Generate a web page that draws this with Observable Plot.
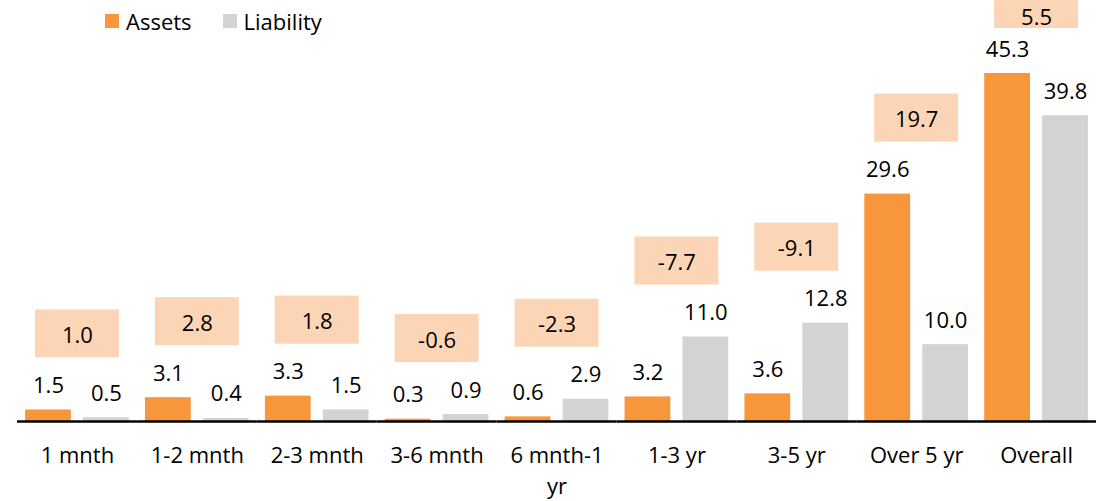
<!DOCTYPE html>
<html><head><meta charset="utf-8">
<script src="https://cdn.jsdelivr.net/npm/d3@7"></script>
<script src="https://cdn.jsdelivr.net/npm/@observablehq/plot@0.6"></script>
<style>
body{margin:0;background:#fff;font-family:"Open Sans",sans-serif;}
#wrap{position:relative;width:1096px;height:501px;overflow:hidden;}
#legend{position:absolute;left:105px;top:10px;display:flex;align-items:center;font-size:22px;line-height:1;color:#000;z-index:2;}
#legend .item{display:flex;align-items:center;margin-right:31px;}
#legend .sw{width:14px;height:14px;margin-right:7px;}
#chart{position:absolute;left:0;top:0;}
</style></head><body>
<div id="wrap"><div id="legend"></div><div id="chart"></div></div>
<script>
const categories = ["1 mnth","1-2 mnth","2-3 mnth","3-6 mnth","6 mnth-1 yr","1-3 yr","3-5 yr","Over 5 yr","Overall"];
const assets = [1.5,3.1,3.3,0.3,0.6,3.2,3.6,29.6,45.3];
const liability = [0.5,0.4,1.5,0.9,2.9,11.0,12.8,10.0,39.8];
const gap = [1.0,2.8,1.8,-0.6,-2.3,-7.7,-9.1,19.7,5.5];
const seriesNames = ["Assets","Liability"];
const colors = ["#F7963A","#D1D3D4"];
const boxColor = "#FBD5B5";

const H = 501, MB = 80, MT = 0;
const yMax = 54.8;
const k = (H - MB - MT) / yMax; // pixels per unit

const bars = categories.flatMap((c,i)=>[
  {category:c, series:seriesNames[0], value:assets[i]},
  {category:c, series:seriesNames[1], value:liability[i]}
]);
const gaps = categories.map((c,i)=>{
  const top = Math.max(assets[i], liability[i]);
  const bottom = Math.min(top + 52/k, yMax - 28/k);
  return {category:c, gap:gap[i], y1:bottom, y2:bottom + 48/k, ty:Math.min(bottom + 24/k, yMax - 15/k)};
});

const chart = Plot.plot({
  width:1096, height:H,
  marginLeft:17, marginRight:0, marginTop:MT, marginBottom:MB,
  style:{fontFamily:"Open Sans", fontSize:"22px", color:"#000", background:"transparent"},
  fx:{domain:categories, padding:0, label:null, round:false},
  x:{domain:seriesNames, paddingInner:0.21, paddingOuter:0.14, axis:null, round:false},
  y:{domain:[0,yMax], axis:null},
  color:{domain:seriesNames, range:colors},
  marks:[
    Plot.barY(bars,{fx:"category", x:"series", y:"value", fill:"series"}),
    Plot.text(bars,{fx:"category", x:"series", y:"value", text:d=>d.value.toFixed(1), dy:-24, fontSize:22}),
    Plot.rect(gaps,{fx:"category", y1:"y1", y2:"y2", insetLeft:18, insetRight:18, fill:boxColor}),
    Plot.text(gaps,{fx:"category", y:"ty", text:d=>d.gap.toFixed(1), dy:2, fontSize:22}),
    Plot.ruleY([0],{stroke:"#000", strokeWidth:2.5}),
    Plot.axisFx({anchor:"bottom", tickSize:0, tickPadding:20, lineWidth:4.6, lineHeight:1.4, fontSize:22, label:null})
  ]
});
document.getElementById("chart").appendChild(chart);

const legend = document.getElementById("legend");
seriesNames.forEach((s,i)=>{
  const item = document.createElement("div");
  item.className = "item";
  const sw = document.createElement("div");
  sw.className = "sw"; sw.style.background = colors[i];
  const t = document.createElement("span"); t.textContent = s;
  item.appendChild(sw); item.appendChild(t);
  legend.appendChild(item);
});
</script>
</body></html>
